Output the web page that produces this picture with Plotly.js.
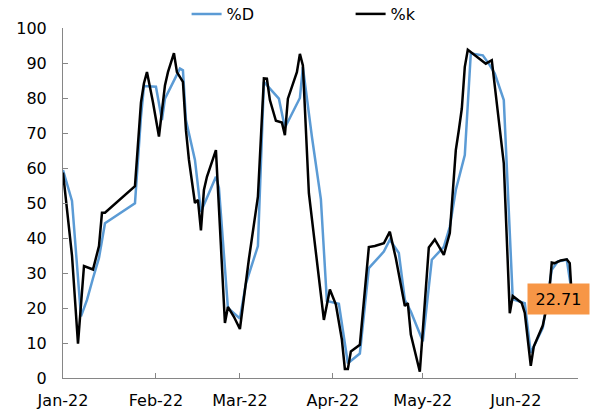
<!DOCTYPE html>
<html>
<head>
<meta charset="utf-8">
<script src="https://cdn.plot.ly/plotly-3.0.1.min.js"></script>
<style>
  html, body { margin: 0; padding: 0; background: #fff; }
  #chart { width: 592px; height: 414px; }
</style>
</head>
<body>
<div id="chart"></div>
<script>
// %K (black) series
const datesK = [
  '2022-01-01','2022-01-04','2022-01-06','2022-01-08','2022-01-11','2022-01-13','2022-01-14','2022-01-15',
  '2022-01-25','2022-01-27','2022-01-28','2022-01-29','2022-01-31','2022-02-02','2022-02-04','2022-02-05',
  '2022-02-07','2022-02-08','2022-02-10','2022-02-11','2022-02-12','2022-02-14','2022-02-15','2022-02-16',
  '2022-02-17','2022-02-18','2022-02-21','2022-02-24','2022-02-25','2022-02-27','2022-03-01','2022-03-04',
  '2022-03-07','2022-03-09','2022-03-10','2022-03-11','2022-03-13','2022-03-15','2022-03-16','2022-03-17',
  '2022-03-20','2022-03-21','2022-03-22','2022-03-24','2022-03-29','2022-03-31','2022-04-02','2022-04-03',
  '2022-04-04','2022-04-05','2022-04-06','2022-04-07','2022-04-10','2022-04-13','2022-04-15','2022-04-18',
  '2022-04-20','2022-04-22','2022-04-25','2022-04-26','2022-04-27','2022-04-30','2022-05-03','2022-05-05',
  '2022-05-08','2022-05-10','2022-05-12','2022-05-13','2022-05-14','2022-05-15','2022-05-16','2022-05-22',
  '2022-05-24','2022-05-28','2022-05-30','2022-05-31','2022-06-03','2022-06-04','2022-06-06','2022-06-07',
  '2022-06-10','2022-06-12','2022-06-13','2022-06-14','2022-06-16','2022-06-18','2022-06-19','2022-06-20'
];
const valuesK = [
  58.7, 35.0, 9.8, 32.0, 31.0, 37.7, 47.2, 47.2,
  54.8, 78.7, 84.2, 87.4, 78.8, 69.0, 83.6, 87.4,
  92.8, 87.4, 84.6, 70.8, 62.3, 50.0, 50.9, 42.2,
  53.7, 57.5, 65.1, 15.7, 20.3, 17.5, 14.0, 34.0,
  51.8, 85.6, 85.5, 79.4, 73.5, 73.0, 69.4, 79.8,
  87.4, 92.6, 89.3, 52.8, 16.6, 25.3, 21.0, 16.0,
  11.0, 2.6, 2.6, 7.6, 9.5, 37.4, 37.7, 38.5,
  41.8, 34.2, 20.6, 21.4, 12.4, 1.8, 37.3, 39.6,
  35.2, 41.4, 65.1, 70.8, 77.0, 88.9, 93.8, 89.8,
  90.8, 61.3, 18.5, 23.4, 21.4, 18.6, 3.5, 9.0,
  15.0, 23.0, 33.0, 32.8, 33.6, 33.9, 32.8, 18.4
];

// %D (blue) series
const datesD = [
  '2022-01-01','2022-01-04','2022-01-07','2022-01-09','2022-01-11','2022-01-13','2022-01-15','2022-01-25',
  '2022-01-27','2022-01-28','2022-02-01','2022-02-03','2022-02-04','2022-02-09','2022-02-10','2022-02-11',
  '2022-02-14','2022-02-16','2022-02-21','2022-02-22','2022-02-25','2022-03-01','2022-03-03','2022-03-07',
  '2022-03-09','2022-03-14','2022-03-16','2022-03-21','2022-03-22','2022-03-25','2022-03-28','2022-03-30',
  '2022-04-03','2022-04-06','2022-04-10','2022-04-13','2022-04-18','2022-04-20','2022-04-23','2022-04-25',
  '2022-04-27','2022-05-01','2022-05-04','2022-05-08','2022-05-10','2022-05-12','2022-05-15','2022-05-17',
  '2022-05-21','2022-05-23','2022-05-25','2022-05-28','2022-05-31','2022-06-04','2022-06-06','2022-06-10',
  '2022-06-13','2022-06-15','2022-06-18','2022-06-20'
];
const valuesD = [
  59.4, 50.6, 17.6, 22.3, 28.5, 34.3, 44.2, 49.9,
  74.6, 83.4, 83.2, 73.7, 79.8, 88.4, 87.9, 73.7,
  62.3, 47.5, 57.5, 54.4, 20.0, 17.0, 27.0, 37.7,
  84.6, 79.8, 71.5, 80.0, 88.8, 69.0, 51.1, 22.0,
  21.2, 4.2, 7.0, 31.4, 36.1, 39.5, 35.7, 22.3,
  19.0, 10.5, 33.8, 37.5, 43.2, 53.7, 63.7, 92.7,
  92.2, 89.8, 87.0, 79.4, 22.5, 21.4, 7.2, 14.3,
  30.9, 33.3, 33.8, 22.71
];

const seriesNames = ['%D', '%k'];
const yTicks = [0, 10, 20, 30, 40, 50, 60, 70, 80, 90, 100];

const FONT = 'DejaVu Sans, Verdana, sans-serif';
const lastIdx = valuesD.length - 1;

const traces = [
  {
    x: datesD, y: valuesD, type: 'scatter', mode: 'lines', name: seriesNames[0],
    line: { color: '#5B9BD5', width: 2.5 }
  },
  {
    x: datesK, y: valuesK, type: 'scatter', mode: 'lines', name: seriesNames[1],
    line: { color: '#000000', width: 2.5 }
  }
];

const layout = {
  width: 592, height: 414,
  margin: { l: 63, r: 14, t: 28, b: 36, pad: 0, autoexpand: false },
  paper_bgcolor: '#ffffff', plot_bgcolor: '#ffffff',
  font: { family: FONT, size: 16, color: '#000' },
  showlegend: true,
  legend: {
    orientation: 'h', x: 0.24, xanchor: 'left', y: 1.04, yanchor: 'middle',
    font: { family: FONT, size: 16, color: '#000' },
    entrywidth: 119, entrywidthmode: 'pixels',
    bgcolor: 'rgba(0,0,0,0)', borderwidth: 0
  },
  xaxis: {
    type: 'date',
    range: ['2022-01-01', '2022-06-21 18:00'],
    tick0: '2022-01-01', dtick: 'M1', tickformat: '%b-%y',
    ticks: 'inside', ticklen: 5, tickcolor: '#868686', tickwidth: 1,
    showline: true, linecolor: '#868686', linewidth: 1,
    showgrid: false, zeroline: false,
    ticklabelstandoff: 8,
    tickfont: { family: FONT, size: 16, color: '#000' }
  },
  yaxis: {
    range: [0, 100],
    tickvals: yTicks,
    ticks: 'inside', ticklen: 5, tickcolor: '#868686', tickwidth: 1,
    showline: true, linecolor: '#868686', linewidth: 1,
    showgrid: false, zeroline: false,
    ticklabelstandoff: 12,
    tickfont: { family: FONT, size: 16, color: '#000' }
  },
  annotations: [
    {
      x: datesD[lastIdx], y: valuesD[lastIdx], xref: 'x', yref: 'y',
      text: valuesD[lastIdx].toFixed(2), showarrow: false,
      xanchor: 'center', yanchor: 'middle', xshift: -14,
      width: 61, height: 30, borderpad: 0,
      bgcolor: '#F79646',
      font: { family: FONT, size: 16, color: '#000' }
    }
  ]
};

Plotly.newPlot('chart', traces, layout, { displayModeBar: false, staticPlot: true });
</script>
</body>
</html>
